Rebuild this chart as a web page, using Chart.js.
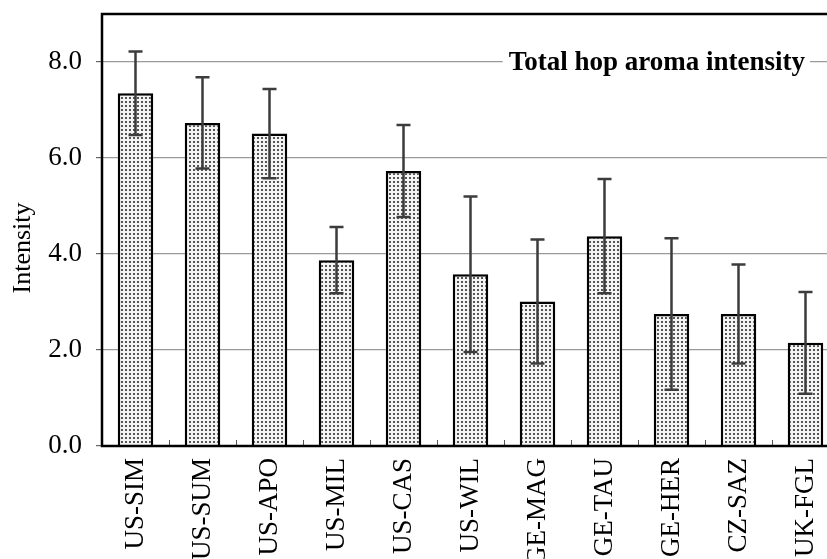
<!DOCTYPE html>
<html>
<head>
<meta charset="utf-8">
<script src="https://cdn.jsdelivr.net/npm/chart.js@4.4.0/dist/chart.umd.min.js"></script>
<style>
  html, body { margin: 0; padding: 0; background: #fff; overflow: hidden; }
  canvas { display: block; }
</style>
</head>
<body>
<canvas id="hopChart" width="845" height="559"></canvas>
<script>
// hop varieties, mean intensity and standard deviation (error bars)
var hops = ['US-SIM', 'US-SUM', 'US-APO', 'US-MIL', 'US-CAS', 'US-WIL', 'GE-MAG', 'GE-TAU', 'GE-HER', 'CZ-SAZ', 'UK-FGL'];
var intensity = [7.35, 6.73, 6.51, 3.87, 5.73, 3.58, 3.01, 4.37, 2.75, 2.75, 2.15];
var errors = [0.87, 0.95, 0.93, 0.69, 0.96, 1.62, 1.29, 1.19, 1.58, 1.03, 1.06];
var yTicks = [0, 2, 4, 6, 8];
var chartTitle = 'Total hop aroma intensity';
var yTitle = 'Intensity';

var serif = "'Liberation Serif', 'Times New Roman', serif";
var canvas = document.getElementById('hopChart');
var ctx = canvas.getContext('2d');

// dotted fill like the original
function dotPattern() {
  var c = document.createElement('canvas');
  c.width = 4; c.height = 4;
  var g = c.getContext('2d');
  g.fillStyle = '#f4f4f4';
  g.fillRect(0, 0, 4, 4);
  g.fillStyle = '#555';
  g.fillRect(1, 1, 2, 2);
  return ctx.createPattern(c, 'repeat');
}

var extras = {
  id: 'extras',
  afterDatasetsDraw: function(chart) {
    var c = chart.ctx, area = chart.chartArea;
    var xs = chart.scales.x, ys = chart.scales.y;
    c.save();

    // error bars
    c.strokeStyle = '#3c3c3c';
    c.lineWidth = 2.5;
    for (var i = 0; i < intensity.length; i++) {
      var x = xs.getPixelForValue(i);
      var top = ys.getPixelForValue(intensity[i] + errors[i]);
      var bot = ys.getPixelForValue(intensity[i] - errors[i]);
      c.beginPath();
      c.moveTo(x, top); c.lineTo(x, bot);
      c.moveTo(x - 7, top); c.lineTo(x + 7, top);
      c.moveTo(x - 7, bot); c.lineTo(x + 7, bot);
      c.stroke();
    }

    // small inward ticks between categories
    c.strokeStyle = '#555';
    c.lineWidth = 1;
    for (var j = 1; j < hops.length; j++) {
      var bx = Math.round((xs.getPixelForValue(j - 1) + xs.getPixelForValue(j)) / 2) + 0.5;
      c.beginPath();
      c.moveTo(bx, area.bottom); c.lineTo(bx, area.bottom - 6);
      c.stroke();
    }

    // frame
    c.strokeStyle = '#000';
    c.lineWidth = 2.5;
    c.strokeRect(area.left, area.top, area.right - area.left, area.bottom - area.top);

    // title inside plot, on white box over the grid line
    c.font = 'bold 27px ' + serif;
    c.textAlign = 'right';
    c.textBaseline = 'middle';
    var ty = ys.getPixelForValue(8);
    var tx = area.right - 34;
    var w = c.measureText(chartTitle).width;
    c.fillStyle = '#fff';
    c.fillRect(tx - w - 6, ty - 14, w + 11, 28);
    c.fillStyle = '#000';
    c.fillText(chartTitle, tx, ty + 1);

    // y axis title
    c.font = '26px ' + serif;
    c.textAlign = 'center';
    c.translate(23, 248);
    c.rotate(-Math.PI / 2);
    c.fillText(yTitle, 0, 0);
    c.restore();
  }
};

var chart = new Chart(ctx, {
  type: 'bar',
  data: {
    labels: hops,
    datasets: [{
      label: chartTitle,
      data: intensity,
      backgroundColor: dotPattern(),
      borderColor: '#000',
      borderWidth: 2.5,
      barPercentage: 0.53,
      categoryPercentage: 1.0
    }]
  },
  options: {
    responsive: false,
    animation: false,
    devicePixelRatio: 1,
    layout: { padding: { top: 14, right: 6, left: 0, bottom: 0 } },
    plugins: { legend: { display: false }, tooltip: { enabled: false } },
    scales: {
      x: {
        grid: { display: false },
        border: { display: false },
        ticks: {
          color: '#000',
          font: { family: serif, size: 27 },
          maxRotation: 90, minRotation: 90,
          padding: 4,
          autoSkip: false
        },
        afterFit: function(scale) { scale.height = 113; }
      },
      y: {
        min: 0,
        max: 9,
        border: { display: false },
        grid: {
          color: function(c) { return c.tick && c.tick.value === 0 ? 'rgba(0,0,0,0)' : '#9a9a9a'; },
          tickColor: '#666',
          tickLength: 6,
          lineWidth: 1.2
        },
        ticks: {
          color: '#000',
          font: { family: serif, size: 27 },
          padding: 14,
          callback: function(v) { return v.toFixed(1); }
        },
        afterBuildTicks: function(scale) {
          scale.ticks = yTicks.map(function(v) { return { value: v }; });
        },
        afterFit: function(scale) {
          scale.width = 102;
          scale.paddingTop = 0;
          scale.paddingBottom = 0;
        }
      }
    }
  },
  plugins: [extras]
});
</script>
</body>
</html>
